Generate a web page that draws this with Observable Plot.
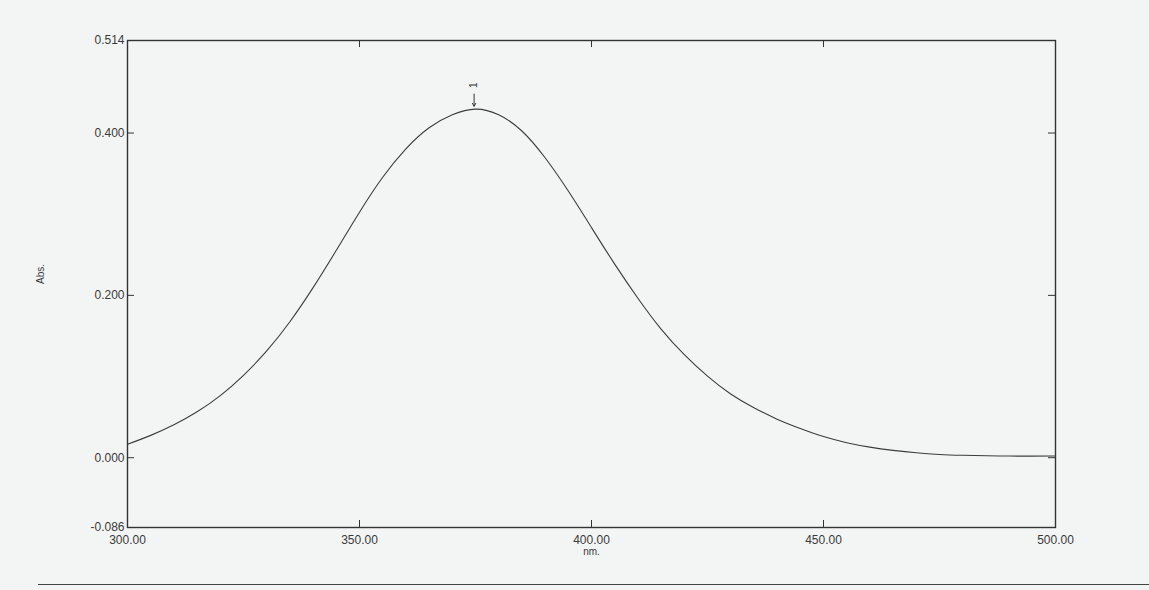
<!DOCTYPE html>
<html>
<head>
<meta charset="utf-8">
<script src="https://cdn.jsdelivr.net/npm/d3@7"></script>
<script src="https://cdn.jsdelivr.net/npm/@observablehq/plot@0.6"></script>
<style>
  html, body { margin: 0; padding: 0; background: #f3f5f5; }
  #wrap { position: relative; width: 1149px; height: 590px; overflow: hidden; }
  #rule { position: absolute; left: 38px; top: 584px; width: 1111px; height: 0; border-top: 1.5px solid #444; }
</style>
</head>
<body>
<div id="wrap"><div id="chart"></div><div id="rule"></div></div>
<script>
// Spectrum (wavelength in nm, absorbance)
const wavelengths = [300, 305, 310, 315, 320, 325, 330, 335, 340, 345, 350, 355, 360, 365, 370, 375, 380, 385, 390, 395, 400, 405, 410, 415, 420, 425, 430, 435, 440, 445, 450, 455, 460, 465, 470, 475, 480, 490, 500];
const absorbance  = [0.0165, 0.0275, 0.0405, 0.0565, 0.0765, 0.1015, 0.1315, 0.1675, 0.2095, 0.2555, 0.3025, 0.3455, 0.3805, 0.4065, 0.4225, 0.4295, 0.4225, 0.4025, 0.3695, 0.3285, 0.2835, 0.2385, 0.1965, 0.1585, 0.1270, 0.1005, 0.0785, 0.0615, 0.0475, 0.0360, 0.0260, 0.0185, 0.0130, 0.0090, 0.0060, 0.0040, 0.0030, 0.0020, 0.0020];

const xDomain = [300, 500];
const yDomain = [-0.086, 0.514];
const xTickLabels = [300, 350, 400, 450, 500];
const yTickLabels = [-0.086, 0.000, 0.200, 0.400, 0.514];
const xInnerTicks = [350, 400, 450];
const yInnerTicks = [0.000, 0.200, 0.400];

const peakLabels = ["1"];
const peakWavelength = [374.7];
const peakArrowTop = [0.448];
const peakArrowTip = [0.433];
const peakTextY = [0.459];

const spectrum = wavelengths.map((w, i) => ({w, a: absorbance[i]}));
const peaks = peakLabels.map((label, i) => ({label, x: peakWavelength[i], y1: peakArrowTop[i], y2: peakArrowTip[i], ty: peakTextY[i]}));

const W = 1149, H = 590;
const mL = 127, mR = 94, mT = 40, mB = 63;
const innerW = W - mL - mR, innerH = H - mT - mB;
const tickLen = 7;
const ink = "#3a3a3a";

const chart = Plot.plot({
  width: W,
  height: H,
  marginLeft: mL,
  marginRight: mR,
  marginTop: mT,
  marginBottom: mB,
  style: {background: "transparent", fontFamily: "'Liberation Sans', Arial, sans-serif", fontSize: "12px", color: ink},
  x: {domain: xDomain},
  y: {domain: yDomain},
  marks: [
    Plot.frame({stroke: "#333", strokeWidth: 1.4}),
    Plot.axisY(yTickLabels, {anchor: "left", tickSize: 0, tickPadding: 3, label: null, tickFormat: d => d.toFixed(3), fill: ink, fontSize: 12}),
    Plot.axisX(xTickLabels, {anchor: "bottom", tickSize: 0, tickPadding: 8, label: null, tickFormat: d => d.toFixed(2), fill: ink, fontSize: 12}),
    // inward tick marks
    Plot.tickY(yInnerTicks, {y: d => d, insetRight: innerW - tickLen, stroke: "#333"}),
    Plot.tickY(yInnerTicks, {y: d => d, insetLeft: innerW - tickLen, stroke: "#333"}),
    Plot.tickX(xInnerTicks, {x: d => d, insetTop: innerH - tickLen, stroke: "#333"}),
    Plot.tickX(xInnerTicks, {x: d => d, insetBottom: innerH - tickLen, stroke: "#333"}),
    // axis titles
    Plot.text(["nm."], {frameAnchor: "bottom", dy: 27, fill: ink, fontSize: 10}),
    Plot.text(["Abs."], {frameAnchor: "left", dx: -87, rotate: -90, fill: ink, fontSize: 10}),
    // spectrum
    Plot.line(spectrum, {x: "w", y: "a", curve: "natural", stroke: "#3c3c3c", strokeWidth: 1.1}),
    // peak marker
    Plot.arrow(peaks, {x1: "x", y1: "y1", x2: "x", y2: "y2", stroke: "#333", strokeWidth: 1, headLength: 5}),
    Plot.text(peaks, {x: "x", y: "ty", text: "label", rotate: -90, fill: ink, fontSize: 10})
  ]
});
document.getElementById("chart").appendChild(chart);
</script>
</body>
</html>
